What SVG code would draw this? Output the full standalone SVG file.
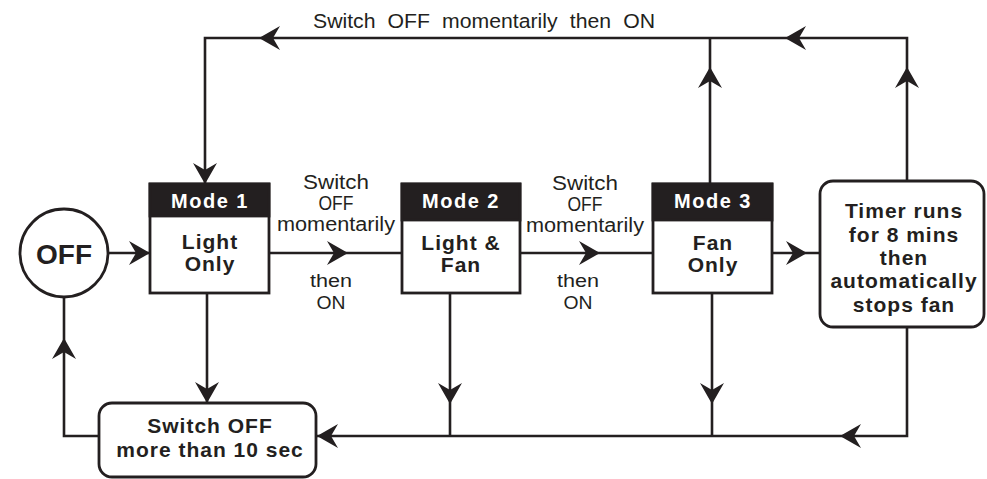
<svg xmlns="http://www.w3.org/2000/svg" xmlns:xlink="http://www.w3.org/1999/xlink" width="987" height="479" viewBox="0 0 987 479">
<style>
.ln{fill:none;stroke:#231f20;stroke-width:2.6}
.box{fill:#fff;stroke:#231f20;stroke-width:2.8}
.hdr{fill:#231f20;stroke:#231f20;stroke-width:2.8}
.b{font-family:"Liberation Sans",Arial,sans-serif;font-weight:bold;font-size:21px;fill:#231f20;text-anchor:middle;letter-spacing:1px}
.h{font-family:"Liberation Sans",Arial,sans-serif;font-weight:bold;font-size:20px;fill:#fff;text-anchor:middle;letter-spacing:1.5px}
.l{font-family:"Liberation Sans",Arial,sans-serif;font-size:19.5px;fill:#231f20;text-anchor:middle}
.s{font-size:18px}
.ah{fill:#231f20}
</style>
<defs>
<path id="ah" d="M0,0 L-21,-12 L-14,0 L-21,12 Z"/>
</defs>
<g id="connectors">
<path class="ln" d="M205,184 V38 H907 V181"/>
<path class="ln" d="M710,185 V38"/>
<path class="ln" d="M108,253 H150"/>
<path class="ln" d="M269,253 H402"/>
<path class="ln" d="M520,253 H653"/>
<path class="ln" d="M772,253 H820"/>
<path class="ln" d="M207,293 V403"/>
<path class="ln" d="M450,293 V436"/>
<path class="ln" d="M712,293 V436"/>
<path class="ln" d="M907,327 V436 H316"/>
<path class="ln" d="M99,436 H64 V297"/>
<g class="ah">
<use xlink:href="#ah" transform="translate(259,38) rotate(180)"/>
<use xlink:href="#ah" transform="translate(785,38) rotate(180)"/>
<use xlink:href="#ah" transform="translate(205,184) rotate(90)"/>
<use xlink:href="#ah" transform="translate(150,253)"/>
<use xlink:href="#ah" transform="translate(348,253)"/>
<use xlink:href="#ah" transform="translate(600,253)"/>
<use xlink:href="#ah" transform="translate(807,253)"/>
<use xlink:href="#ah" transform="translate(710,67) rotate(-90)"/>
<use xlink:href="#ah" transform="translate(907,67) rotate(-90)"/>
<use xlink:href="#ah" transform="translate(207,403) rotate(90)"/>
<use xlink:href="#ah" transform="translate(450,404) rotate(90)"/>
<use xlink:href="#ah" transform="translate(712,404) rotate(90)"/>
<use xlink:href="#ah" transform="translate(840,436) rotate(180)"/>
<use xlink:href="#ah" transform="translate(317,436) rotate(180)"/>
<use xlink:href="#ah" transform="translate(64,338) rotate(-90)"/>
</g>
<text class="l" x="484" y="28" textLength="342" lengthAdjust="spacingAndGlyphs" style="font-size:20.5px;word-spacing:6px">Switch OFF momentarily then ON</text>
<g class="l">
<text x="336" y="189" textLength="66" lengthAdjust="spacingAndGlyphs">Switch</text>
<text x="336" y="210" textLength="35" lengthAdjust="spacingAndGlyphs">OFF</text>
<text x="336" y="231" textLength="118" lengthAdjust="spacingAndGlyphs">momentarily</text>
<text class="s" x="331" y="287" textLength="42" lengthAdjust="spacingAndGlyphs">then</text>
<text class="s" x="331" y="309" textLength="29" lengthAdjust="spacingAndGlyphs">ON</text>
<text x="585" y="190" textLength="66" lengthAdjust="spacingAndGlyphs">Switch</text>
<text x="585" y="211" textLength="35" lengthAdjust="spacingAndGlyphs">OFF</text>
<text x="585" y="232" textLength="118" lengthAdjust="spacingAndGlyphs">momentarily</text>
<text class="s" x="578" y="287" textLength="42" lengthAdjust="spacingAndGlyphs">then</text>
<text class="s" x="578" y="309" textLength="29" lengthAdjust="spacingAndGlyphs">ON</text>
</g>
</g>
<g id="off">
<circle class="box" cx="64" cy="253" r="44"/>
<text class="b" x="64" y="264" style="font-size:28px;letter-spacing:0">OFF</text>
</g>
<g id="mode1">
<rect class="box" x="150" y="184" width="119" height="109"/>
<rect class="hdr" x="150" y="184" width="119" height="32"/>
<text class="h" x="210" y="208">Mode 1</text>
<text class="b" x="210" y="249">Light</text>
<text class="b" x="210" y="271">Only</text>
</g>
<g id="mode2">
<rect class="box" x="402" y="184" width="118" height="109"/>
<rect class="hdr" x="402" y="184" width="118" height="36"/>
<text class="h" x="461" y="208">Mode 2</text>
<text class="b" x="461" y="250">Light &amp;</text>
<text class="b" x="461" y="272">Fan</text>
</g>
<g id="mode3">
<rect class="box" x="653" y="184" width="119" height="109"/>
<rect class="hdr" x="653" y="184" width="119" height="36"/>
<text class="h" x="713" y="208">Mode 3</text>
<text class="b" x="713" y="250">Fan</text>
<text class="b" x="713" y="272">Only</text>
</g>
<g id="timer">
<rect class="box" x="820" y="181" width="164" height="146" rx="13"/>
<text class="b" x="904" y="218">Timer runs</text>
<text class="b" x="904" y="242">for 8 mins</text>
<text class="b" x="904" y="265">then</text>
<text class="b" x="904" y="288">automatically</text>
<text class="b" x="904" y="312">stops fan</text>
</g>
<g id="switchoff">
<rect class="box" x="99" y="403" width="217" height="74" rx="13"/>
<text class="b" x="210" y="433">Switch OFF</text>
<text class="b" x="210" y="457">more than 10 sec</text>
</g>
</svg>
